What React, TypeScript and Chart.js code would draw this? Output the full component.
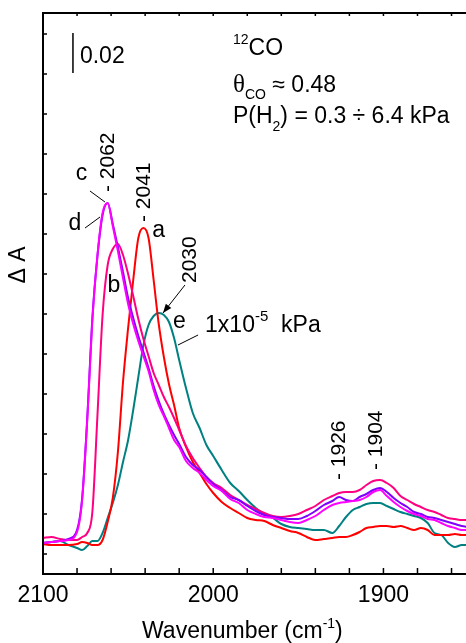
import React, { useEffect, useRef } from "react";
import { Chart, registerables } from "chart.js";

Chart.register(...registerables);

// ---- Data (ΔA in units of 10^-3; "0.02" scale bar = 20 units) ----
const wavenumbers = [
  2100, 2095, 2090, 2085, 2080, 2077, 2074, 2071, 2068, 2065,
  2062, 2059, 2056, 2053, 2050, 2047, 2044, 2041, 2038, 2035,
  2032, 2029, 2026, 2023, 2020, 2016, 2012, 2008, 2004, 2000,
  1995, 1990, 1985, 1980, 1975, 1970, 1965, 1960, 1955, 1950,
  1945, 1940, 1935, 1930, 1926, 1922, 1918, 1914, 1910, 1906,
  1902, 1898, 1894, 1890, 1886, 1882, 1878, 1874, 1870, 1866,
  1862, 1858, 1854, 1850,
];

// a (red)
const seriesA = [
  15, 14.5, 14.5, 14.5, 15, 16, 15.5, 14.5, 14.5, 17,
  26, 38, 61, 96, 123, 147, 168, 173, 168, 147,
  125, 108.5, 95, 84.5, 73, 63.5, 56, 50.5, 45, 40.5,
  36, 33, 30.5, 28, 27, 26.5, 24.5, 23, 21.5, 20.5,
  18.5, 17, 17.5, 18, 18.5, 18.5, 19.5, 21, 23, 23.5,
  24, 24, 23.5, 24, 23, 22, 23, 22, 19.5, 19.5,
  19.5, 20, 19.5, 19.5,
];

// b (deep pink)
const seriesB = [
  18, 18.5, 17.5, 17, 17, 18.5, 20.5, 31, 79.5, 129.5,
  154.5, 162.5, 165, 159.5, 150, 139, 127.5, 117.5, 109, 100.5,
  94.5, 88.5, 83.5, 78, 72, 64, 58, 53, 48.5, 45.5,
  43, 39.5, 37, 34.5, 32.5, 30.5, 29, 28.5, 29, 30,
  32, 34, 37, 39, 40.5, 41, 41, 42, 44.5, 46.5,
  47, 45.5, 43, 39, 37, 35, 33.5, 32, 31, 29.5,
  28, 27.5, 27, 27,
];

// c (magenta)
const seriesC = [
  15.5, 16, 16.5, 17, 21, 37, 77, 127, 159.5, 180.5,
  185.5, 174, 161.5, 148, 135, 125, 116.5, 109, 101.5, 92,
  84.5, 79, 73, 67, 63.5, 56.5, 53, 50.5, 47, 44,
  41.5, 37.5, 35.5, 32, 30, 28.5, 28, 27, 26, 25.5,
  27, 29, 32, 34.5, 35.5, 36, 36.5, 37, 38.5, 41,
  42, 39, 36, 33.5, 31.5, 30, 29, 27.5, 27, 25.5,
  24, 23, 22, 22,
];

// d (violet)
const seriesD = [
  15.5, 16, 16.5, 17.5, 22, 38, 78, 128, 159, 179.5,
  185.5, 175, 163.5, 151, 138, 128, 119, 111, 103, 94,
  86.5, 80, 74.5, 69.5, 65, 58.5, 54.5, 52, 48.5, 45,
  42, 38.5, 37, 34, 31.5, 29.5, 28.5, 28, 27.5, 27.5,
  29, 31.5, 34.5, 36.5, 38.5, 37, 36.5, 38.5, 40, 42,
  43, 41, 38, 35.5, 33.5, 31, 30, 28.5, 28, 27,
  26, 25, 24, 23.5,
];

// e (teal, 1x10^-5 kPa)
const seriesE = [
  15.5, 16, 16.5, 14.5, 13, 12, 14, 16.5, 16.5, 20.5,
  28, 35.5, 44.5, 56, 67, 82, 98.5, 114.5, 124.5, 129,
  130.5, 129.5, 126, 118, 107, 93, 80.5, 73, 64.5, 59,
  52, 45.5, 41.5, 37, 33, 30, 28, 25, 23.5, 23,
  22.5, 22, 22, 20.5, 24, 28.5, 32, 33.5, 35, 35.5,
  35.5, 34, 32.5, 31, 30, 29, 28, 25.5, 20.5, 19.5,
  15.5, 13.5, 14.5, 14.5,
];

const xTickLabels = [2100, 2000, 1900];
const xMinorTicks = [2100, 2080, 2060, 2040, 2020, 2000, 1980, 1960, 1940, 1920, 1900, 1880, 1860];
const yTicks = [10, 30, 50, 70, 90, 110, 130, 150, 170, 190, 210, 230, 250, 270];
const scaleBarX = [2082.4, 2082.4];
const scaleBarY = [250.5, 270.5];

const X_MIN = 1851.5;
const X_MAX = 2100;
const Y_MIN = 0;
const Y_MAX = 280.5;

const SANS = "'Liberation Sans', Arial, sans-serif";
const SERIF = "'Liberation Serif', 'Times New Roman', serif";

const toPoints = (vals: number[]) => wavenumbers.map((w, i) => ({ x: w, y: vals[i] }));

type Part = { t: string; size: number; dy?: number; family?: string };

const decorPlugin = {
  id: "decor",
  afterDatasetsDraw(chart: any) {
    const { ctx, chartArea } = chart;
    const { left, top, right, bottom } = chartArea;
    const xs = chart.scales.x;
    const ys = chart.scales.y;
    const px = (w: number) => xs.getPixelForValue(w);
    const py = (v: number) => ys.getPixelForValue(v);

    ctx.save();
    ctx.fillStyle = "#000";
    ctx.strokeStyle = "#000";

    // frame (left, top, bottom)
    ctx.lineWidth = 2;
    ctx.beginPath();
    ctx.moveTo(right + 2, top);
    ctx.lineTo(left, top);
    ctx.lineTo(left, bottom);
    ctx.lineTo(right + 2, bottom);
    ctx.stroke();

    // inward ticks
    ctx.lineWidth = 1.5;
    ctx.beginPath();
    for (const w of xMinorTicks) {
      const x = px(w);
      ctx.moveTo(x, bottom);
      ctx.lineTo(x, bottom - 6);
      ctx.moveTo(x, top);
      ctx.lineTo(x, top + 3);
    }
    for (const v of yTicks) {
      const y = py(v);
      ctx.moveTo(left, y);
      ctx.lineTo(left + 4, y);
    }
    ctx.stroke();

    // x tick labels
    ctx.font = `23px ${SANS}`;
    ctx.textAlign = "center";
    ctx.textBaseline = "alphabetic";
    for (const w of xTickLabels) {
      ctx.fillText(String(w), px(w), bottom + 28);
    }

    const rich = (parts: Part[], x: number, y: number) => {
      let cx = x;
      ctx.textAlign = "left";
      ctx.textBaseline = "alphabetic";
      for (const p of parts) {
        ctx.font = `${p.size}px ${p.family || SANS}`;
        ctx.fillText(p.t, cx, y + (p.dy || 0));
        cx += ctx.measureText(p.t).width;
      }
    };
    const rot = (text: string, w: number, v: number, size: number) => {
      ctx.save();
      ctx.translate(px(w), py(v));
      ctx.rotate(-Math.PI / 2);
      ctx.font = `${size}px ${SANS}`;
      ctx.textAlign = "left";
      ctx.textBaseline = "alphabetic";
      ctx.fillText(text, 0, 0);
      ctx.restore();
    };
    const label = (text: string, w: number, v: number) => {
      ctx.font = `23px ${SANS}`;
      ctx.textAlign = "center";
      ctx.textBaseline = "alphabetic";
      ctx.fillText(text, px(w), py(v));
    };
    const seg = (w1: number, v1: number, w2: number, v2: number) => {
      ctx.lineWidth = 1;
      ctx.beginPath();
      ctx.moveTo(px(w1), py(v1));
      ctx.lineTo(px(w2), py(v2));
      ctx.stroke();
    };

    // x axis title
    rich(
      [
        { t: "Wavenumber (cm", size: 23 },
        { t: "-1", size: 14, dy: -10 },
        { t: ")", size: 23 },
      ],
      left + 99,
      bottom + 64
    );

    // y axis title
    ctx.save();
    ctx.translate(left - 18, top + 252);
    ctx.rotate(-Math.PI / 2);
    ctx.font = `23px ${SANS}`;
    ctx.textAlign = "center";
    ctx.textBaseline = "alphabetic";
    ctx.fillText("\u0394 A", 0, 0);
    ctx.restore();

    // scale bar label
    rich([{ t: "0.02", size: 23 }], px(2078.3), py(255.5));

    // top-right annotations
    rich(
      [
        { t: "12", size: 14, dy: -11 },
        { t: "CO", size: 23 },
      ],
      px(1988.4),
      py(259.5)
    );
    rich(
      [
        { t: "\u03b8", size: 25, family: SERIF },
        { t: "CO", size: 14, dy: 7 },
        { t: " \u2248 0.48", size: 23 },
      ],
      px(1988.4),
      py(241)
    );
    rich(
      [
        { t: "P(H", size: 23 },
        { t: "2", size: 14, dy: 8 },
        { t: ") = 0.3 \u00f7 6.4 kPa", size: 23 },
      ],
      px(1988.4),
      py(225.5)
    );

    // curve labels
    label("c", 2077.4, 197);
    label("d", 2081.2, 172);
    label("a", 2032.1, 168.5);
    label("b", 2058.3, 141);
    label("e", 2019.8, 123);
    seg(2072.4, 191.5, 2063.6, 186);
    seg(2075.3, 173, 2066.5, 178.5);
    seg(2008.9, 119.5, 2020.7, 114.5);

    rot("- 2062", 2058.3, 191, 21);
    rot("- 2041", 2037.1, 176, 21);
    rot("2030", 2010.1, 145.5, 21);
    rot("- 1926", 1922.6, 47, 21);
    rot("- 1904", 1900.8, 52, 21);

    rich(
      [
        { t: "1x10", size: 23 },
        { t: "-5", size: 15, dy: -11 },
        { t: "  kPa", size: 23 },
      ],
      px(2004.8),
      py(121)
    );

    // arrow to 2030 peak
    {
      const x1 = px(2016.6), y1 = py(144.5), x2 = px(2029.5), y2 = py(130.5);
      ctx.lineWidth = 1;
      ctx.beginPath();
      ctx.moveTo(x1, y1);
      ctx.lineTo(x2, y2);
      ctx.stroke();
      const ang = Math.atan2(y2 - y1, x2 - x1);
      const L = 9, W = 3.5;
      ctx.beginPath();
      ctx.moveTo(x2, y2);
      ctx.lineTo(x2 - L * Math.cos(ang) + W * Math.sin(ang), y2 - L * Math.sin(ang) - W * Math.cos(ang));
      ctx.lineTo(x2 - L * Math.cos(ang) - W * Math.sin(ang), y2 - L * Math.sin(ang) + W * Math.cos(ang));
      ctx.closePath();
      ctx.fill();
    }

    ctx.restore();
  },
};

export default function App() {
  const canvasRef = useRef<HTMLCanvasElement | null>(null);

  useEffect(() => {
    document.body.style.margin = "0";
    const canvas = canvasRef.current;
    if (!canvas) return;

    const curve = (label: string, data: number[], color: string) => ({
      label,
      data: toPoints(data),
      borderColor: color,
      backgroundColor: color,
      borderWidth: 2,
      pointRadius: 0,
      fill: false,
      cubicInterpolationMode: "monotone" as const,
    });

    const chart = new Chart(canvas, {
      type: "line",
      data: {
        datasets: [
          curve("c", seriesC, "#ff00ff"),
          curve("d", seriesD, "#8000ff"),
          curve("b", seriesB, "#ff0080"),
          curve("a", seriesA, "#ff0000"),
          curve("e", seriesE, "#008080"),
          {
            label: "scale",
            data: scaleBarX.map((x, i) => ({ x, y: scaleBarY[i] })),
            borderColor: "#000",
            borderWidth: 1.5,
            pointRadius: 0,
            tension: 0,
            fill: false,
          },
        ],
      },
      options: {
        responsive: false,
        animation: false,
        devicePixelRatio: 1,
        layout: { padding: { left: 43, top: 13, right: 0, bottom: 69 } },
        scales: {
          x: { type: "linear", display: false, min: X_MIN, max: X_MAX, reverse: true },
          y: { type: "linear", display: false, min: Y_MIN, max: Y_MAX },
        },
        plugins: {
          legend: { display: false },
          tooltip: { enabled: false },
        },
      },
      plugins: [decorPlugin],
    } as any);

    return () => chart.destroy();
  }, []);

  return (
    <canvas
      ref={canvasRef}
      width={466}
      height={643}
      style={{ display: "block", width: 466, height: 643 }}
    />
  );
}
